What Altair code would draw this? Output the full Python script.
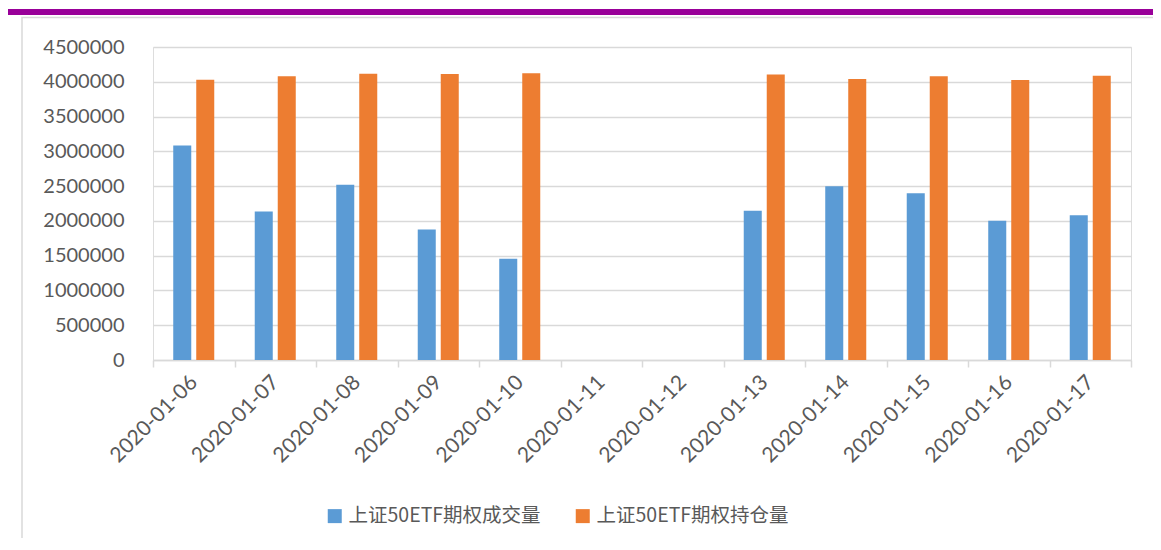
import altair as alt
import pandas as pd

dates = ["2020-01-06", "2020-01-07", "2020-01-08", "2020-01-09", "2020-01-10",
         "2020-01-11", "2020-01-12", "2020-01-13", "2020-01-14", "2020-01-15",
         "2020-01-16", "2020-01-17"]
series_names = ["上证50ETF期权成交量", "上证50ETF期权持仓量"]
volume = [3085000, 2135000, 2519000, 1876000, 1454000, None, None,
          2145000, 2499000, 2398000, 2001000, 2080000]
open_interest = [4030000, 4078000, 4117000, 4112000, 4121000, None, None,
                 4103000, 4039000, 4078000, 4025000, 4085000]
y_ticks = [0, 500000, 1000000, 1500000, 2000000, 2500000, 3000000,
           3500000, 4000000, 4500000]
colors = ["#5B9BD5", "#ED7D31"]

rows = []
for d, v, o in zip(dates, volume, open_interest):
    rows.append({"date": d, "series": series_names[0], "value": v})
    rows.append({"date": d, "series": series_names[1], "value": o})
df = pd.DataFrame(rows)

W, H = 978, 313
GRAY = "#d9d9d9"
TXT = "#595959"

bars = alt.Chart(df).mark_bar().encode(
    x=alt.X("date:N", sort=dates,
            scale=alt.Scale(domain=dates, paddingInner=0, paddingOuter=0),
            axis=alt.Axis(title=None, labelAngle=-45, labelAlign="right",
                          labelBaseline="middle", labelFont="Lato",
                          labelFontSize=21, labelColor=TXT, labelPadding=12,
                          domainColor=GRAY, domainWidth=1.5, tickColor=GRAY,
                          tickWidth=1.5, tickSize=7, tickBand="extent",
                          grid=False)),
    xOffset=alt.XOffset("series:N", sort=series_names,
                        scale=alt.Scale(domain=series_names, paddingInner=0.217,
                                        paddingOuter=0.88)),
    y=alt.Y("value:Q",
            scale=alt.Scale(domain=[0, 4500000], nice=False),
            axis=alt.Axis(title=None, values=y_ticks, format="d",
                          labelFont="Lato", labelFontSize=20, labelColor=TXT,
                          labelPadding=29, ticks=False, domain=False,
                          gridColor=GRAY, gridWidth=1.3)),
    color=alt.Color("series:N", sort=series_names,
                    scale=alt.Scale(domain=series_names, range=colors),
                    legend=alt.Legend(title=None, orient="none",
                                      direction="horizontal",
                                      legendX=172, legendY=459,
                                      symbolType="square", symbolSize=196,
                                      symbolStrokeWidth=0, labelOffset=4,
                                      columnPadding=32, labelLimit=0,
                                      labelFont="Noto Sans CJK SC",
                                      labelFontSize=19.5, labelColor=TXT,
                                      padding=0)),
)

one = alt.Data(values=[{"k": 1}])

purple = alt.Chart(one).mark_rect(color="#990099").encode(
    x=alt.value(-145), x2=alt.value(1000),
    y=alt.value(-38), y2=alt.value(-32))

frame = alt.Chart(one).mark_rect(fill=None, stroke=GRAY, strokeWidth=1.5).encode(
    x=alt.value(-131), x2=alt.value(1010),
    y=alt.value(-29.5), y2=alt.value(600))

chart = alt.layer(frame, purple, bars).properties(
    width=W, height=H,
    autosize=alt.AutoSizeParams(type="none"),
    padding={"left": 145, "top": 39, "right": 22, "bottom": 178},
).configure_view(stroke=None).configure(background="white")

chart.save("out.html", embed_options={"renderer": "svg", "actions": False})
